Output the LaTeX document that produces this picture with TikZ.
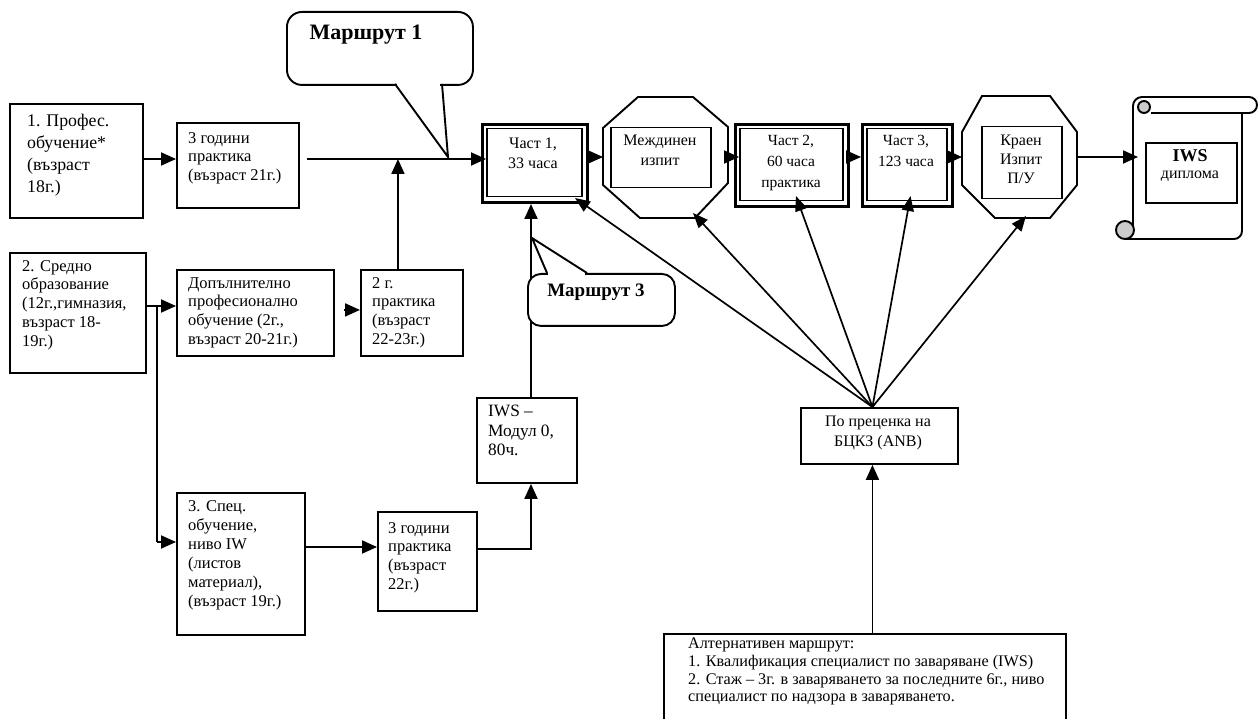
\documentclass[tikz,border=0pt]{standalone}
\usepackage{fontspec}
\setmainfont{Liberation Serif}
\usetikzlibrary{arrows.meta,calc}
\begin{document}
\begin{tikzpicture}[x=1pt,y=-1pt,line join=miter,
  box/.style={draw,line width=1.9pt,inner sep=0,anchor=north west},
  pbox/.style={draw,line width=3pt,inner sep=0,anchor=north west},
  ibox/.style={draw,line width=1.5pt,inner sep=0,anchor=north west},
  txt/.style={anchor=north west,inner sep=0,align=left,font=\fontsize{16.5}{18.8}\selectfont},
  ctxt/.style={anchor=north,inner sep=0,align=center,font=\fontsize{16}{20}\selectfont},
  ln/.style={line width=1.9pt},
  arr/.style={line width=1.9pt,-{Triangle[length=15pt,width=13pt]}},
  fan/.style={line width=1.7pt,-{Triangle[length=15pt,width=12pt]}},
  callout/.style={draw,line width=1.9pt,fill=white,rounded corners=15pt,inner sep=0,anchor=north west}]
\useasboundingbox (0,0) rectangle (1259,719);
\fill[white] (0,0) rectangle (1259,719);

% helper coordinates
\coordinate (my) at (0,159);
\coordinate (cy) at (0,157);
\coordinate (xv) at (531,0);

% left boxes
\node[box,minimum width=133pt,minimum height=114pt] (b1) at (9,103) {};
\node[txt,font=\fontsize{17.8}{22}\selectfont] (t1) at (27,114) {1. Профес.\\обучение*\\(възраст\\18г.)};
\node[box,minimum width=122pt,minimum height=85pt] (b1p) at (176,122) {};
\node[txt] (t1p) at (188,132) {3 години\\практика\\(възраст 21г.)};

\node[box,minimum width=136pt,minimum height=120pt] (b2) at (9,252) {};
\node[txt] (t2) at (22,260) {2. Средно\\образование\\(12г.,гимназия,\\възраст 18-\\19г.)};
\node[box,minimum width=157pt,minimum height=86pt] (bdop) at (176,269) {};
\node[txt] (tdop) at (188,277) {Допълнително\\професионално\\обучение (2г.,\\възраст 20-21г.)};
\node[box,minimum width=102pt,minimum height=86pt] (b2g) at (360,269) {};
\node[txt] (t2g) at (372,277) {2 г.\\практика\\(възраст\\22-23г.)};

\node[box,minimum width=128pt,minimum height=142pt] (b3) at (176,492) {};
\node[txt,font=\fontsize{16.5}{19}\selectfont] (t3) at (188,500) {3. Спец.\\обучение,\\ниво IW\\(листов\\материал),\\(възраст 19г.)};
\node[box,minimum width=99pt,minimum height=99pt] (b3p) at (377,511) {};
\node[txt] (t3p) at (388,522) {3 години\\практика\\(възраст\\22г.)};
\node[box,minimum width=100pt,minimum height=85pt] (biws) at (476,397) {};
\node[txt,font=\fontsize{17.3}{19.5}\selectfont] (tiws) at (488,405) {IWS –\\Модул 0,\\80ч.};

% parts
\node[pbox,minimum width=105pt,minimum height=78pt] (p1) at (481,123) {};
\node[ibox,minimum width=95pt,minimum height=68pt] (p1i) at (486,128) {};
\node[ctxt] (tp1) at (533,138) {Част 1,\\33 часа};
\node[pbox,minimum width=113pt,minimum height=82pt] (p2) at (734,123) {};
\node[ibox,minimum width=103pt,minimum height=72pt] (p2i) at (739,128) {};
\node[ctxt,font=\fontsize{15.5}{20.8}\selectfont] (tp2) at (791,135) {Част 2,\\60 часа\\практика};
\node[pbox,minimum width=90pt,minimum height=82pt] (p3) at (861,123) {};
\node[ibox,minimum width=80pt,minimum height=72pt] (p3i) at (866,128) {};
\node[ctxt,font=\fontsize{15.5}{20.8}\selectfont] (tp3) at (906,135) {Част 3,\\123 часа};

% octagon 1
\draw[ln] (638,97) -- (693,97) -- (728,127) -- (728,183) -- (695,218) -- (640,218) -- (603,185) -- (603,128) -- cycle;
\coordinate (o1w) at (603,157);
\coordinate (o1e) at (728,157);
\coordinate (o1s) at (693,213);
\node[ibox,minimum width=100pt,minimum height=60pt] (m1) at (610,127) {};
\node[ctxt] (tm1) at (660,135) {Междинен\\изпит};

% octagon 2
\draw[ln] (982,96) -- (1050,96) -- (1077,132) -- (1077,185) -- (1050,218) -- (995,218) -- (962,185) -- (962,132) -- cycle;
\coordinate (o2w) at (962,157);
\coordinate (o2e) at (1077,157);
\coordinate (o2s) at (1026,216);
\node[ibox,minimum width=80pt,minimum height=72pt] (m2) at (981,126) {};
\node[ctxt,font=\fontsize{16}{19}\selectfont] (tm2) at (1021,135) {Краен\\Изпит\\П/У};

% scroll
\filldraw[ln,fill=gray!40] (1125,230) circle[radius=9pt];
\draw[ln] (1133,226) -- (1133,106) arc[start angle=180,end angle=90,radius=9pt] -- (1249,97) arc[start angle=90,end angle=-90,radius=8pt] -- (1151,113);
\filldraw[ln,fill=gray!40] (1144,107) circle[radius=6pt];
\draw[ln] (1242,113) -- (1242,231) arc[start angle=0,end angle=-90,radius=8pt] -- (1125,239);
\coordinate (scw) at (1138,157);
\node[box,minimum width=91pt,minimum height=60pt] (dip) at (1145,142) {};
\node[ctxt,font=\fontsize{18}{20}\selectfont\bfseries] (tdip1) at (1190,149) {IWS};
\node[ctxt] (tdip2) at (1190,171) {диплома};

% ANB box and alternative box
\node[box,minimum width=157pt,minimum height=56pt] (banb) at (800,407) {};
\node[ctxt] (tanb) at (878,416) {По преценка на\\БЦКЗ (ANB)};
\node[inner sep=0,anchor=north west,minimum width=402pt,minimum height=85pt] (balt) at (664,634) {};
\draw[ln] (balt.south west) -- (balt.north west) -- (balt.north east) -- (balt.south east);
\node[txt,font=\fontsize{16.2}{17.6}\selectfont] (talt) at (688,638) {Алтернативен маршрут:\\1. Квалификация специалист по заваряване (IWS)\\2. Стаж – 3г. в заваряването за последните 6г., ниво\\специалист по надзора в заваряването.};
\coordinate (fan) at ($(banb.north)+(-7,0)$);

% connectors
\draw[arr] (b1.east |- my) -- (b1p.west |- my);
\draw[arr] ($(b1p.east |- my)+(7,0)$) -- (p1i.west |- my);
\draw[arr] ($(b2g.north)+(-14,0)$) coordinate (q1) -- (q1 |- my);
\coordinate (j2) at (157,306);
\coordinate (j3) at (157,542);
\draw[ln] (b2.east |- j2) -- (j2) -- (j3);
\draw[arr] (j2) -- (bdop.west |- j2);
\draw[arr] (j3) -- (b3.west |- j3);
\draw[arr] ($(bdop.east)+(9,-3)$) coordinate (q2) -- (b2g.west |- q2);
\coordinate (y3) at (0,547);
\coordinate (y4) at (0,549);
\draw[arr] (b3.east |- y3) -- (b3p.west |- y3);
\draw[arr] (b3p.east |- y4) -| (biws.south -| xv);
\draw[arr] (biws.north -| xv) -- (p1.south -| xv);

\draw[arr] (p1.east |- cy) -- (o1w);
\draw[arr] (o1e) -- (p2i.west |- cy);
\draw[arr] (p2.east |- cy) -- (p3.west |- cy);
\draw[arr] (p3.east |- cy) -- (o2w);
\draw[arr] (o2e) -- (scw);

\draw[fan] (fan) -- ($(p1.south east)+(-14,-6)$);
\draw[fan] (fan) -- (o1s);
\draw[fan] (fan) -- ($(p2.south)+(4,-12)$);
\draw[fan] (fan) -- ($(p3.south)+(3,-12)$);
\draw[fan] (fan) -- (o2s);
\draw[arr] (balt.north -| fan) -- (banb.south -| fan);

% callouts
\node[callout,minimum width=186pt,minimum height=73pt] (c1) at (286,11) {};
\fill[white] (397,81) rectangle (440,87);
\draw[ln] (395,84) -- (448,157) -- (442,84);
\node[anchor=north,inner sep=0,font=\fontsize{22}{24}\selectfont\bfseries] (tc1) at (366,25) {Маршрут 1};

\node[callout,rounded corners=13pt,minimum width=147pt,minimum height=52pt] (c3) at (527,273) {};
\fill[white] (548,270) rectangle (585,276);
\draw[ln] (547,273) -- (532,238) -- (587,273);
\node[anchor=north,inner sep=0,font=\fontsize{19}{22}\selectfont\bfseries] (tc3) at (596,284) {Маршрут 3};
\end{tikzpicture}
\end{document}
